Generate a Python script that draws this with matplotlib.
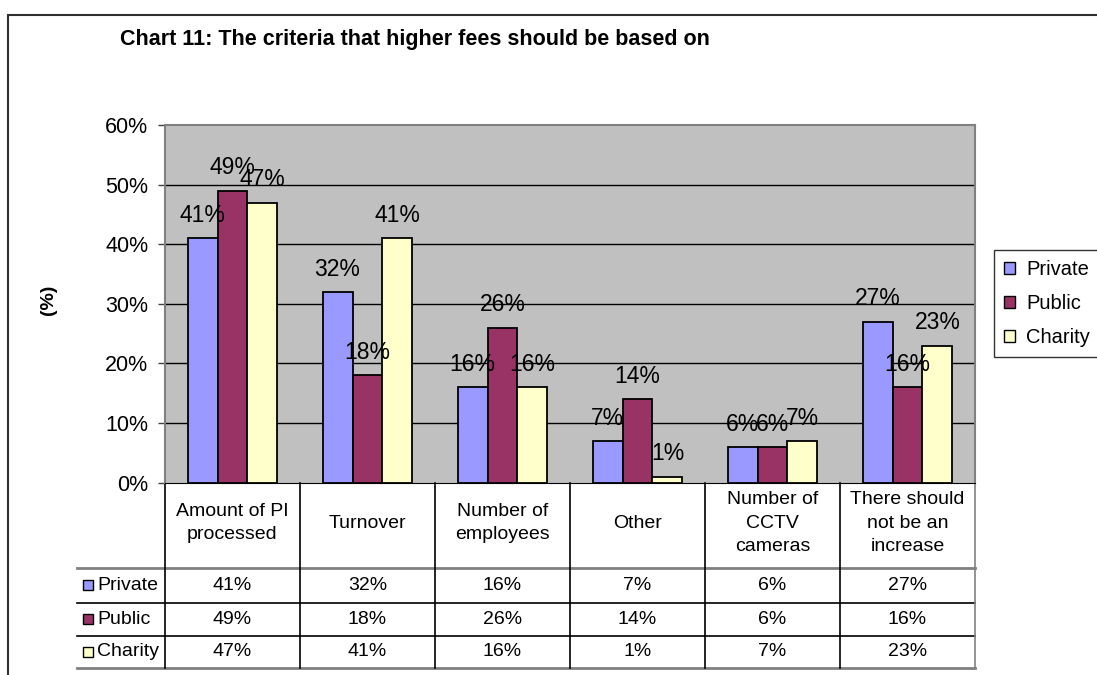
import matplotlib
matplotlib.use('Agg')
import matplotlib.pyplot as plt
import matplotlib.patches as mpatches
import numpy as np

plt.rcParams['font.family'] = ['Liberation Sans', 'DejaVu Sans']

# data
categories = ['Amount of PI\nprocessed', 'Turnover', 'Number of\nemployees',
              'Other', 'Number of\nCCTV\ncameras', 'There should\nnot be an\nincrease']
series = ['Private', 'Public', 'Charity']
private = [41, 32, 16, 7, 6, 27]
public = [49, 18, 26, 14, 6, 16]
charity = [47, 41, 16, 1, 7, 23]
colors = ['#9999FF', '#993366', '#FFFFCC']
yticks = [0, 10, 20, 30, 40, 50, 60]

values = [private, public, charity]

fig = plt.figure(figsize=(10.97, 6.75), dpi=100)
ax = fig.add_axes([0.1504, 0.2849, 0.7384, 0.5299])
ax.set_facecolor('#C0C0C0')

x = np.arange(len(categories))
w = 0.222
for i, (name, vals, c) in enumerate(zip(series, values, colors)):
    pos = x + (i - 1) * w
    ax.bar(pos, vals, w, color=c, edgecolor='black', linewidth=1.3, label=name, zorder=3)
    for px, v in zip(pos, vals):
        ax.annotate(f'{v}%', (px, v), xytext=(0, 16.5), textcoords='offset points',
                    ha='center', va='center', fontsize=16.5, zorder=5)

ax.set_xlim(-0.5, len(categories) - 0.5)
ax.set_ylim(0, 60)
ax.set_yticks(yticks)
ax.set_yticklabels([f'{t}%' for t in yticks], fontsize=15.5)
ax.set_xticks([])
ax.tick_params(axis='y', direction='out', length=5, width=1, color='#404040', pad=7)
for t in yticks[1:-1]:
    ax.axhline(t, color='black', linewidth=1, zorder=1)
for s in ['left', 'top', 'right']:
    ax.spines[s].set_color('#808080')
    ax.spines[s].set_linewidth(1.5)
ax.spines['bottom'].set_color('black')

# table under the chart (axes-fraction y, data x)
trans = ax.get_xaxis_transform()
hdr_bot = -0.2376
row_lines = [hdr_bot, -0.3355, -0.4277, -0.5188]
lab_left = -1.15
for k, yl in enumerate(row_lines):
    col = '#808080' if k in (0, 3) else 'black'
    lw = 2 if k in (0, 3) else 1.2
    ax.plot([lab_left, len(categories) - 0.5], [yl, yl], color=col, lw=lw,
            transform=trans, clip_on=False)
for b in np.arange(len(categories) + 1) - 0.5:
    col = '#808080' if b == len(categories) - 0.5 else 'black'
    ax.plot([b, b], [0, row_lines[-1]], color=col, lw=1.2, transform=trans, clip_on=False)

for i, cat in enumerate(categories):
    ax.text(i, -0.1127, cat, transform=trans, ha='center', va='center',
            fontsize=14, linespacing=1.5)

row_centers = [(row_lines[k] + row_lines[k + 1]) / 2 for k in range(3)]
for name, vals, c, yc in zip(series, values, colors, row_centers):
    ax.plot([-1.07], [yc], marker='s', markersize=6.5, markerfacecolor=c,
            markeredgecolor='black', markeredgewidth=1, transform=trans, clip_on=False)
    ax.text(-1.004, yc, name, transform=trans, ha='left', va='center', fontsize=14)
    for i, v in enumerate(vals):
        ax.text(i, yc, f'{v}%', transform=trans, ha='center', va='center', fontsize=14)

# legend
handles = [mpatches.Patch(facecolor=c, edgecolor='black', label=n) for n, c in zip(series, colors)]
leg = fig.legend(handles=handles, loc='upper left', bbox_to_anchor=(994 / 1097, 1 - 250 / 675),
                 fontsize=14.5, frameon=True, fancybox=False, edgecolor='black',
                 handlelength=0.55, handleheight=0.55, handletextpad=0.55,
                 labelspacing=0.75, borderpad=0.5, borderaxespad=0)
leg.get_frame().set_linewidth(1)

# titles
fig.text(0.378, 0.942, 'Chart 11: The criteria that higher fees should be based on',
         ha='center', va='center', fontsize=15.5, fontweight='bold')
fig.text(0.0438, 0.5556, '(%)', rotation=90, ha='center', va='center',
         fontsize=14, fontweight='bold')

# outer frame
fig.patches.append(mpatches.Rectangle((8 / 1097, -0.1), 1.2, 1.1 - 15 / 675,
                                      transform=fig.transFigure, fill=False,
                                      edgecolor='#303030', linewidth=1.5))

fig.savefig('out.png', dpi=100)
